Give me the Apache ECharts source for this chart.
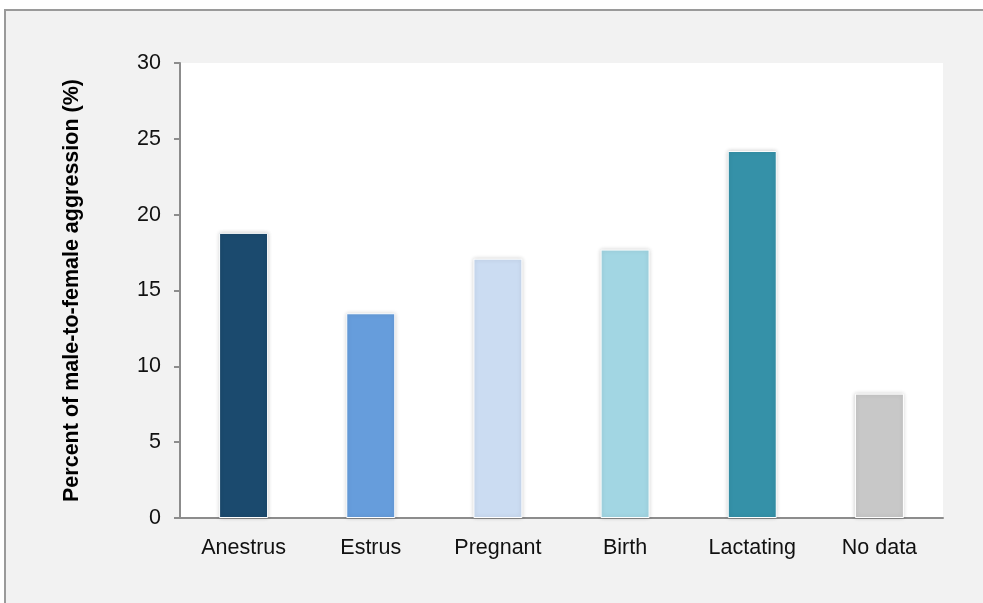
<!DOCTYPE html>
<html lang="en">
<head>
    <meta charset="utf-8">
    <title>Male-to-female aggression</title>
    <script src="https://cdn.jsdelivr.net/npm/echarts@6/dist/echarts.min.js"></script>
    <style>
        html, body { margin: 0; padding: 0; background: #fff; }
        #frame {
            position: absolute; left: 4px; top: 9px; width: 990px; height: 610px;
            background: #f2f2f2; border-top: 2px solid #9a9a9a; border-left: 2px solid #9a9a9a;
        }
        #chart { position: absolute; left: 0; top: 0; width: 983px; height: 603px; }
    </style>
</head>
<body>
    <div id="frame"></div>
    <div id="chart"></div>
    <script>
        // data
        var categories = ['Anestrus', 'Estrus', 'Pregnant', 'Birth', 'Lactating', 'No data'];
        var values = [18.8, 13.5, 17.1, 17.7, 24.2, 8.2];
        var barColors = ['#1b4a6e', '#669ddc', '#cbdcf2', '#a2d6e3', '#3591a8', '#c8c8c8'];
        var yTicks = [0, 5, 10, 15, 20, 25, 30];

        var chart = echarts.init(document.getElementById('chart'));
        var font = 'Liberation Sans, Arial, Helvetica, sans-serif';

        var option = {
            backgroundColor: 'transparent',
            grid: {
                left: 180, top: 63, right: 40, bottom: 85,
                show: true, backgroundColor: '#ffffff', borderWidth: 0
            },
            xAxis: {
                type: 'category',
                data: categories,
                axisLine: { lineStyle: { color: '#8c8c8c', width: 2 } },
                axisTick: { show: false },
                axisLabel: { color: '#111', fontSize: 21.5, fontFamily: font, margin: 19 }
            },
            yAxis: {
                type: 'value',
                min: yTicks[0],
                max: yTicks[yTicks.length - 1],
                interval: 5,
                name: 'Percent of male-to-female aggression (%)',
                nameLocation: 'middle',
                nameGap: 97,
                nameTextStyle: { color: '#000', fontSize: 21.5, fontWeight: 'bold', fontFamily: font },
                axisLine: { show: true, lineStyle: { color: '#8c8c8c', width: 2 } },
                axisTick: { show: true, length: 6, lineStyle: { color: '#8c8c8c', width: 2 } },
                axisLabel: { color: '#111', fontSize: 21.5, fontFamily: font, margin: 19 },
                splitLine: { show: false }
            },
            series: [{
                type: 'bar',
                barWidth: 49,
                data: values.map(function (v, i) {
                    return { value: v, itemStyle: { color: barColors[i] } };
                }),
                itemStyle: {
                    borderColor: '#ffffff', borderWidth: 1,
                    shadowBlur: 4, shadowColor: 'rgba(0,0,0,0.18)'
                }
            }]
        };
        chart.setOption(option, true);
    </script>
</body>
</html>
